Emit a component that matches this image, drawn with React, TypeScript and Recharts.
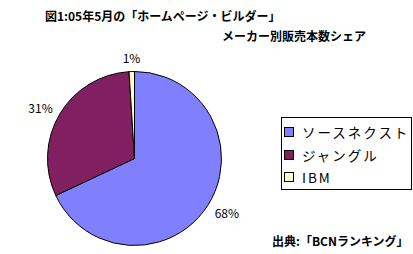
import { PieChart, Pie, Cell, Legend } from "recharts";

const makers = ["ソースネクスト", "ジャングル", "IBM"];
const shares = [68, 31, 1];
const colors = ["#8080FF", "#802060", "#FFFFCC"];

const data = makers.map((name, i) => ({ name, value: shares[i] }));

const jp = '"Noto Sans CJK JP", "Noto Sans", sans-serif';
const RADIAN = Math.PI / 180;

function renderLabel(props: any) {
  const { cx, cy, midAngle, outerRadius, value } = props;
  const r = outerRadius + 8;
  const cos = Math.cos(-midAngle * RADIAN);
  const sin = Math.sin(-midAngle * RADIAN);
  const x = cx + r * cos;
  const y = cy + r * sin + sin * 6;
  const anchor = cos > 0.3 ? "start" : cos < -0.3 ? "end" : "middle";
  return (
    <text
      x={x}
      y={y}
      fill="#000"
      fontSize={12}
      fontFamily={jp}
      textAnchor={anchor}
      dominantBaseline="central"
    >
      {value}%
    </text>
  );
}

function LegendBox() {
  return (
    <div
      style={{
        border: "1px solid #000",
        width: 127,
        height: 68,
        boxSizing: "content-box",
        padding: "3px 0 0 2px",
        fontFamily: jp,
        fontSize: 13.5,
        background: "#fff",
      }}
    >
      {data.map((d, i) => (
        <div
          key={d.name}
          style={{ display: "flex", alignItems: "center", height: 22.5 }}
        >
          <span
            style={{
              width: 8,
              height: 8,
              border: "1px solid #000",
              background: colors[i],
              marginRight: 8,
              display: "inline-block",
            }}
          />
          <span style={{ letterSpacing: 2 }}>{d.name}</span>
        </div>
      ))}
    </div>
  );
}

export default function App() {
  return (
    <div
      style={{
        position: "absolute",
        left: 0,
        top: 0,
        width: 413,
        height: 254,
        background: "#fff",
        fontFamily: jp,
      }}
    >
      <div
        style={{
          position: "absolute",
          left: 45,
          top: 7,
          fontSize: 12,
          fontWeight: "bold",
          whiteSpace: "nowrap",
        }}
      >
        図1:05年5月の「ホームページ・ビルダー」
      </div>
      <div
        style={{
          position: "absolute",
          left: 222,
          top: 27,
          fontSize: 12,
          fontWeight: "bold",
          whiteSpace: "nowrap",
        }}
      >
        メーカー別販売本数シェア
      </div>
      <PieChart width={413} height={254}>
        <Pie
          data={data}
          dataKey="value"
          nameKey="name"
          cx={129.5}
          cy={153.5}
          outerRadius={87}
          startAngle={90}
          endAngle={-270}
          stroke="#000"
          strokeWidth={1}
          label={renderLabel}
          labelLine={false}
          isAnimationActive={false}
        >
          {data.map((d, i) => (
            <Cell key={d.name} fill={colors[i]} />
          ))}
        </Pie>
        <Legend
          content={<LegendBox />}
          wrapperStyle={{ position: "absolute", left: 281, top: 117, width: 130 }}
        />
      </PieChart>
      <div
        style={{
          position: "absolute",
          left: 272,
          top: 232,
          fontSize: 12,
          fontWeight: "bold",
          whiteSpace: "nowrap",
        }}
      >
        出典:「BCNランキング」
      </div>
    </div>
  );
}
